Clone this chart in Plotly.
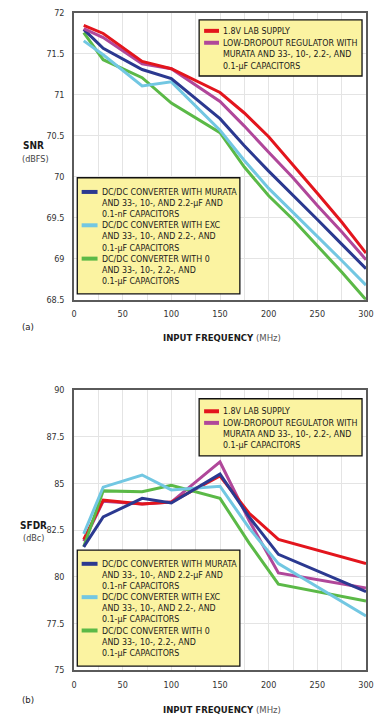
import plotly.graph_objects as go

# ---------------- data ----------------
freq_snr = [10, 30, 70, 100, 150, 175, 200, 225, 250, 275, 300]
snr_lab = [71.85, 71.75, 71.41, 71.32, 71.03, 70.78, 70.49, 70.15, 69.80, 69.45, 69.07]
snr_ldo = [71.81, 71.70, 71.38, 71.32, 70.92, 70.62, 70.30, 69.99, 69.65, 69.33, 68.99]
snr_murata = [71.80, 71.57, 71.31, 71.20, 70.71, 70.38, 70.07, 69.78, 69.48, 69.18, 68.88]
snr_exc = [71.66, 71.49, 71.11, 71.16, 70.57, 70.20, 69.86, 69.57, 69.27, 68.98, 68.68]
snr_zero = [71.76, 71.43, 71.21, 70.90, 70.54, 70.12, 69.77, 69.48, 69.16, 68.84, 68.50]

freq_sfdr = [10, 30, 70, 100, 150, 180, 210, 300]
sfdr_lab = [82.0, 84.1, 83.9, 84.0, 85.4, 83.4, 82.0, 80.7]
sfdr_ldo = [81.9, 84.05, 83.9, 84.0, 86.15, 83.0, 80.2, 79.4]
sfdr_murata = [81.6, 83.2, 84.2, 83.95, 85.5, 83.2, 81.2, 79.2]
sfdr_exc = [82.3, 84.8, 85.45, 84.65, 84.85, 82.6, 80.7, 77.9]
sfdr_zero = [81.6, 84.6, 84.55, 84.9, 84.2, 81.8, 79.6, 78.7]

colors = ["#E3151D", "#B0479A", "#2B3990", "#72C7E2", "#5BB947"]

legend_top = [
    ["1.8V LAB SUPPLY"],
    ["LOW-DROPOUT REGULATOR WITH", "MURATA AND 33-, 10-, 2.2-, AND", "0.1-\u00b5F CAPACITORS"],
]
legend_bottom = [
    ["DC/DC CONVERTER WITH MURATA", "AND 33-, 10-, AND 2.2-\u00b5F AND", "0.1-nF CAPACITORS"],
    ["DC/DC CONVERTER WITH EXC", "AND 33-, 10-, AND 2.2-, AND", "0.1-\u00b5F CAPACITORS"],
    ["DC/DC CONVERTER WITH 0", "AND 33-, 10-, 2.2-, AND", "0.1-\u00b5F CAPACITORS"],
]

snr_ticks = [68.5, 69, 69.5, 70, 70.5, 71, 71.5, 72]
sfdr_ticks = [75, 77.5, 80, 82.5, 85, 87.5, 90]
x_ticks = [0, 50, 100, 150, 200, 250, 300]

# ---------------- layout helpers ----------------
W, H = 382, 724
L, R, T, B = 74, 14, 8, 54
PW, PH = W - L - R, H - T - B
FONT = "DejaVu Sans Condensed, Liberation Sans Narrow, Arial Narrow, sans-serif"


def px(x):
    return (x - L) / PW


def py(y):
    return (H - B - y) / PH


fig = go.Figure()

snr_series = [snr_lab, snr_ldo, snr_murata, snr_exc, snr_zero]
sfdr_series = [sfdr_lab, sfdr_ldo, sfdr_murata, sfdr_exc, sfdr_zero]
for i in [4, 3, 2, 1, 0]:
    fig.add_trace(go.Scatter(x=freq_snr, y=snr_series[i], mode="lines",
                             line=dict(color=colors[i], width=3),
                             xaxis="x", yaxis="y", showlegend=False, hoverinfo="skip"))
for i in [1, 0, 4, 3, 2]:
    fig.add_trace(go.Scatter(x=freq_sfdr, y=sfdr_series[i], mode="lines",
                             line=dict(color=colors[i], width=3),
                             xaxis="x2", yaxis="y2", showlegend=False, hoverinfo="skip"))

axis_common = dict(showline=True, mirror=True, linecolor="#5a5a5a", linewidth=1.5,
                   gridcolor="#e4e4e4", gridwidth=1, zeroline=False,
                   tickfont=dict(family=FONT, size=9, color="#333"), ticks="")

fig.update_layout(
    width=W, height=H, margin=dict(l=L, r=R, t=T, b=B),
    paper_bgcolor="white", plot_bgcolor="white",
    xaxis=dict(domain=[0, 1], range=[0, 300], tickvals=x_ticks, anchor="y",
               minor=dict(dtick=25, showgrid=True, gridcolor="#e4e4e4"),
               ticklabelstandoff=5, **axis_common),
    yaxis=dict(domain=[py(297), 1], range=[68.5, 72], tickvals=snr_ticks, anchor="x",
               ticktext=[f"{v:g}" for v in snr_ticks], ticklabelstandoff=6, **axis_common),
    xaxis2=dict(domain=[0, 1], range=[0, 300], tickvals=x_ticks, anchor="y2",
                minor=dict(dtick=25, showgrid=True, gridcolor="#e4e4e4"),
                ticklabelstandoff=5, **axis_common),
    yaxis2=dict(domain=[0, py(388)], range=[75, 90], tickvals=sfdr_ticks, anchor="x2",
                ticktext=[f"{v:g}" for v in sfdr_ticks], ticklabelstandoff=6, **axis_common),
)

shapes = []
annots = []


def add_text(x, y, text, size=8.8, color="#1a1a1a", xanchor="left"):
    annots.append(dict(x=px(x), y=py(y), xref="paper", yref="paper", text=text,
                       showarrow=False, xanchor=xanchor, yanchor="middle",
                       font=dict(family=FONT, size=size, color=color)))


def add_legend(box, rows_y, groups, cols, sx0, sx1, tx):
    x0, y0, x1, y1 = box
    shapes.append(dict(type="rect", xref="paper", yref="paper",
                       x0=px(x0), x1=px(x1), y0=py(y0), y1=py(y1),
                       fillcolor="#FBF3A1", line=dict(color="#111", width=1.3), layer="above"))
    k = 0
    for g, c in zip(groups, cols):
        ly = rows_y[k]
        shapes.append(dict(type="line", xref="paper", yref="paper",
                           x0=px(sx0), x1=px(sx1), y0=py(ly), y1=py(ly),
                           line=dict(color=c, width=4), layer="above"))
        for line in g:
            add_text(tx, rows_y[k], line)
            k += 1


# chart (a) legends
add_legend((200, 15, 364, 71.5), [26, 38, 49.5, 61], legend_top, colors[:2], 205, 220, 222)
add_legend((77.3, 174, 241, 291), [188.3 + 11.2 * i for i in range(9)], legend_bottom,
           colors[2:], 81.7, 97.7, 100)
# chart (b) legends
add_legend((200, 396.7, 364, 454.3), [409.3, 421, 432.3, 443.6], legend_top, colors[:2], 205, 220, 222)
add_legend((77.3, 549.3, 241, 666), [563 + 11.2 * i for i in range(9)], legend_bottom,
           colors[2:], 81.7, 97.7, 100)

# axis titles and panel labels
add_text(33, 142, "<b>SNR</b>", size=10, xanchor="center")
add_text(35, 155, "(dBFS)", size=9, color="#444", xanchor="center")
add_text(33, 524, "<b>SFDR</b>", size=10, xanchor="center")
add_text(33, 537, "(dBc)", size=9, color="#444", xanchor="center")
add_text(28, 324, "(a)", size=9.5, xanchor="center")
add_text(28, 700, "(b)", size=9.5, xanchor="center")
add_text(223, 335, "<b>INPUT FREQUENCY</b> <span style='color:#555'>(MHz)</span>", size=9.5, xanchor="center")
add_text(223, 710, "<b>INPUT FREQUENCY</b> <span style='color:#555'>(MHz)</span>", size=9.5, xanchor="center")

fig.update_layout(shapes=shapes, annotations=annots)
fig.write_html("out.html", config={"displayModeBar": False},
               post_script="document.body.style.margin='0';document.body.style.overflow='hidden';")
